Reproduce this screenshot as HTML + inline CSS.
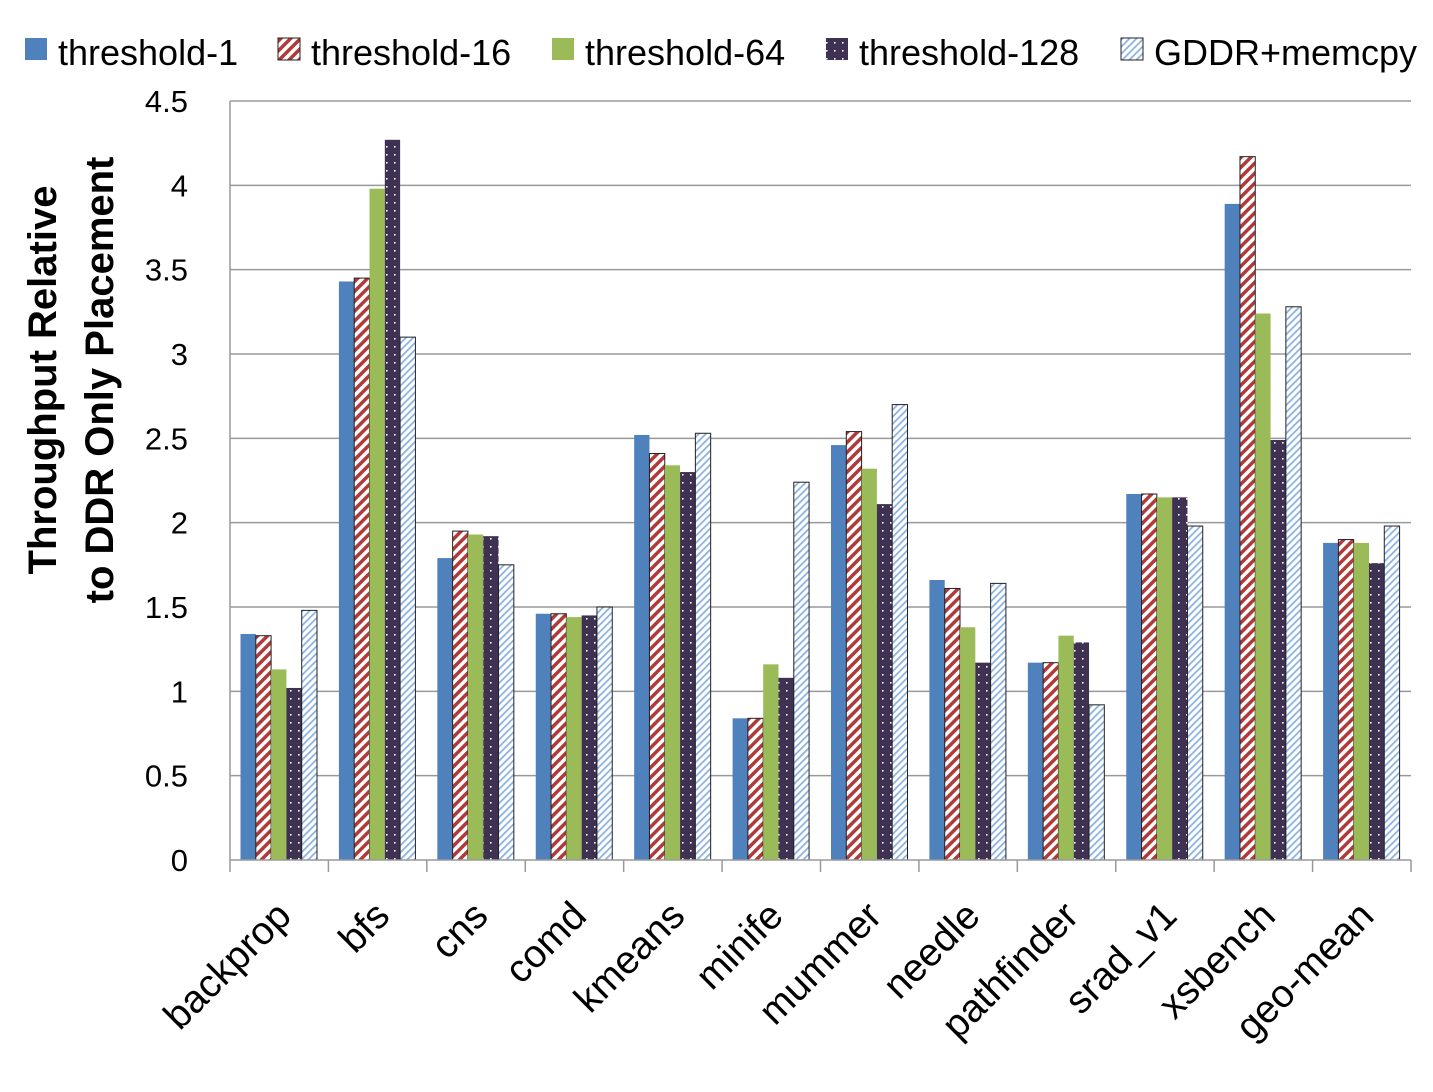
<!DOCTYPE html>
<html><head><meta charset="utf-8"><style>
body{margin:0;background:#fff;}
svg{display:block;font-family:"Liberation Sans",Calibri,sans-serif;}
</style></head><body>
<svg id="chart" width="1433" height="1092" viewBox="0 0 1433 1092">
<defs>
<pattern id="pRed" patternUnits="userSpaceOnUse" width="7" height="7" patternTransform="rotate(45)">
<rect width="7" height="7" fill="#fff"/><rect width="3.5" height="7" fill="#b03a3a"/></pattern>
<pattern id="pDots" patternUnits="userSpaceOnUse" width="8" height="8">
<rect width="8" height="8" fill="#3f3151"/><rect x="2" y="2" width="1.6" height="1.6" fill="#fff"/></pattern>
<pattern id="pLight" patternUnits="userSpaceOnUse" width="5" height="5" patternTransform="rotate(45)">
<rect width="5" height="5" fill="#fff"/><rect width="1.8" height="5" fill="#8db3e2"/></pattern>
</defs>
<g id="grid"></g><g id="bars"></g><g id="axes"></g><g id="legend"></g>
<text transform="translate(56,380) rotate(-90)" text-anchor="middle" font-size="40" font-weight="bold">Throughput Relative</text>
<text transform="translate(113,380) rotate(-90)" text-anchor="middle" font-size="40" font-weight="bold">to DDR Only Placement</text>
</svg>
<script>
const categories=["backprop","bfs","cns","comd","kmeans","minife","mummer","needle","pathfinder","srad_v1","xsbench","geo-mean"];
const seriesNames=["threshold-1","threshold-16","threshold-64","threshold-128","GDDR+memcpy"];
const s1=[1.34,3.43,1.79,1.46,2.52,0.84,2.46,1.66,1.17,2.17,3.89,1.88];
const s16=[1.33,3.45,1.95,1.46,2.41,0.84,2.54,1.61,1.17,2.17,4.17,1.90];
const s64=[1.13,3.98,1.93,1.44,2.34,1.16,2.32,1.38,1.33,2.15,3.24,1.88];
const s128=[1.02,4.27,1.92,1.45,2.30,1.08,2.11,1.17,1.29,2.15,2.49,1.76];
const sMem=[1.48,3.10,1.75,1.50,2.53,2.24,2.70,1.64,0.92,1.98,3.28,1.98];
const yTicks=["0","0.5","1","1.5","2","2.5","3","3.5","4","4.5"];
const series=[s1,s16,s64,s128,sMem];
const fills=["#4f81bd","url(#pRed)","#9bbb59","url(#pDots)","url(#pLight)"];
const strokes=["none","#222","none","none","#222"];
const NS="http://www.w3.org/2000/svg";
const X0=230,X1=1411,Y0=860,Y1=101,YMAX=4.5;
const cw=(X1-X0)/categories.length, bw=15.3, off=10.5;
const y=v=>Y0-(v/YMAX)*(Y0-Y1);
const xc=(i,j)=>X0+i*cw+off+j*bw;
function mk(t,a,p){const e=document.createElementNS(NS,t);for(const k in a)e.setAttribute(k,a[k]);p.appendChild(e);return e;}
const grid=document.getElementById('grid'),bars=document.getElementById('bars'),axes=document.getElementById('axes'),leg=document.getElementById('legend');
yTicks.forEach(t=>{const v=parseFloat(t);
 if(v>0){const l=mk('line',{x1:X0,x2:X1,y1:y(v),y2:y(v),stroke:'#999','stroke-width':1.5},grid);
 
 }
 const tx=mk('text',{x:188,y:y(v)+11,'text-anchor':'end','font-size':31},axes);tx.textContent=t;
 
 
});
mk('line',{x1:X0,x2:X0,y1:Y1,y2:Y0,stroke:'#999','stroke-width':1.5},axes);
mk('line',{x1:X0,x2:X1,y1:Y0,y2:Y0,stroke:'#999','stroke-width':1.5},axes);
categories.forEach((c,i)=>{
 const tk=mk('line',{x1:X0+(i+1)*cw,x2:X0+(i+1)*cw,y1:Y0,y2:Y0+12,stroke:'#999','stroke-width':1.5},axes);
 
 
 if(i==0){mk('line',{x1:X0,x2:X0,y1:Y0,y2:Y0+12,stroke:'#999','stroke-width':1.5},axes);}
 const cx=X0+(i+0.5)*cw+14, cy=918;
 const t=mk('text',{x:cx,y:cy,'text-anchor':'end','font-size':39,transform:`rotate(-45 ${cx} ${cy})`},axes);t.textContent=c;
 
 
 series.forEach((s,j)=>{
  const r=mk('rect',{x:xc(i,j),y:y(s[i]),width:bw,height:Y0-y(s[i]),fill:fills[j],stroke:strokes[j],'stroke-width':strokes[j]=='none'?0:1},bars);
  
  
 });
});
const lx=[25,278,552,826,1121];
seriesNames.forEach((n,j)=>{
 const g=mk('g',{},leg);
 
 
 mk('rect',{x:lx[j],y:38,width:22,height:22,fill:fills[j],stroke:strokes[j],'stroke-width':strokes[j]=='none'?0:1},g);
 const t=mk('text',{x:lx[j]+33,y:65,'font-size':36},g);t.textContent=n;
});
</script>
</body></html>
